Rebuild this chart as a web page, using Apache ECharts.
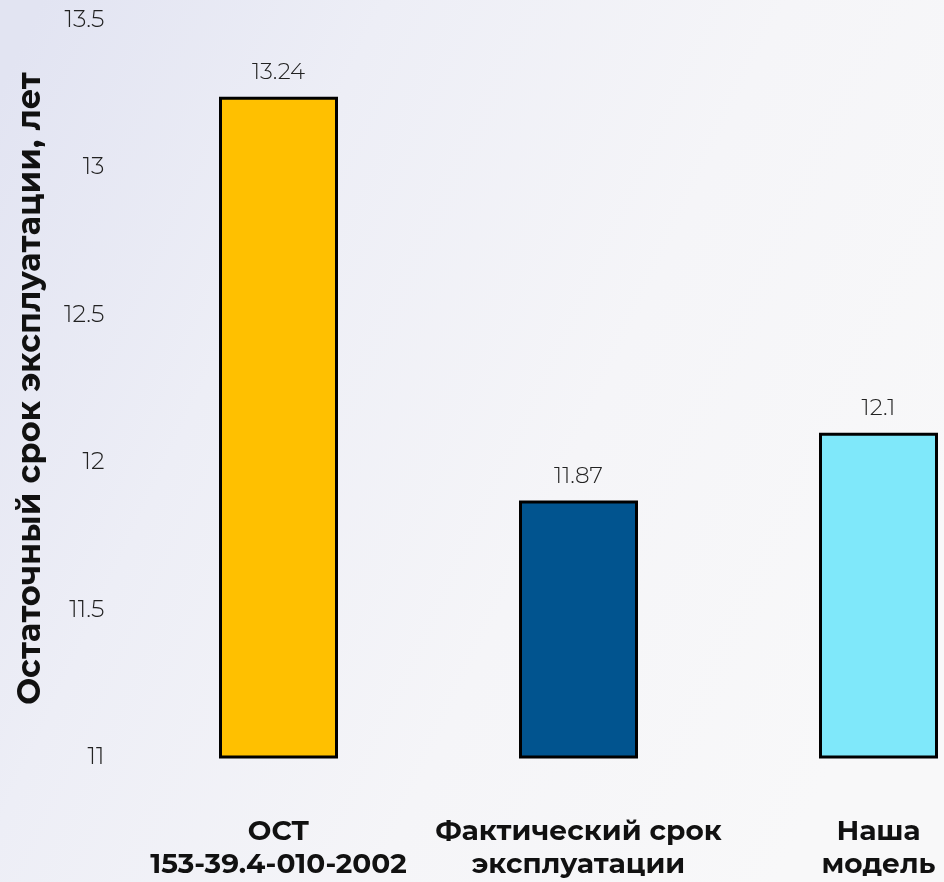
<!DOCTYPE html>
<html>
<head>
<meta charset="utf-8">
<script src="https://cdn.jsdelivr.net/npm/echarts@6/dist/echarts.min.js"></script>
<style>
  html, body { margin: 0; padding: 0; }
  #chart { width: 944px; height: 882px; }
</style>
</head>
<body>
<div id="chart"></div>
<script>
// Residual service life by estimation method
const categories = ['ОСТ\n153-39.4-010-2002', 'Фактический срок\nэксплуатации', 'Наша\nмодель'];
const lifeValues = [13.24, 11.87, 12.1];
const barColors = ['#FFC000', '#01548F', '#7FE8FA'];
const yTicks = { min: 11, max: 13.5, step: 0.5 };
const yAxisTitle = 'Остаточный срок эксплуатации, лет';

const chart = echarts.init(document.getElementById('chart'), null, { renderer: 'canvas' });

const option = {
  backgroundColor: {
    type: 'linear', x: 0, y: 0.1, x2: 1, y2: 0.6,
    colorStops: [
      { offset: 0, color: '#e2e4f2' },
      { offset: 0.3, color: '#edeef6' },
      { offset: 0.65, color: '#f5f5f8' },
      { offset: 1, color: '#f8f8f9' }
    ]
  },
  animation: false,
  // the plot runs past the right edge, so the last bar sits at the border
  grid: {
    left: 128.5, top: 20, width: 900, bottom: 125,
    containLabel: false,
    outerBoundsMode: 'none'
  },
  xAxis: {
    type: 'category',
    data: categories,
    axisLine: { show: false },
    axisTick: { show: false },
    axisLabel: {
      interval: 0,
      margin: 58,
      color: '#111',
      fontFamily: 'Montserrat, "DejaVu Sans", sans-serif',
      fontWeight: 'bold',
      fontSize: 28,
      lineHeight: 33
    }
  },
  yAxis: {
    type: 'value',
    min: yTicks.min,
    max: yTicks.max,
    interval: yTicks.step,
    axisLine: { show: false },
    axisTick: { show: false },
    splitLine: { show: false },
    axisLabel: {
      margin: 24,
      color: '#222',
      fontFamily: 'Montserrat, "Noto Sans", sans-serif',
      fontWeight: 300,
      fontSize: 24
    },
    name: yAxisTitle,
    nameLocation: 'middle',
    nameGap: 82,
    nameRotate: 90,
    nameTextStyle: {
      color: '#111',
      fontFamily: 'Montserrat, "DejaVu Sans", sans-serif',
      fontWeight: 'bold',
      fontSize: 32
    }
  },
  series: [{
    type: 'bar',
    barWidth: 119,
    data: lifeValues.map((v, i) => ({
      value: v,
      itemStyle: { color: barColors[i] }
    })),
    itemStyle: { borderColor: '#000', borderWidth: 3 },
    label: {
      show: true,
      position: 'top',
      distance: 13,
      color: '#222',
      fontFamily: 'Montserrat, "Noto Sans", sans-serif',
      fontWeight: 300,
      fontSize: 23
    }
  }]
};

chart.setOption(option);
</script>
</body>
</html>
